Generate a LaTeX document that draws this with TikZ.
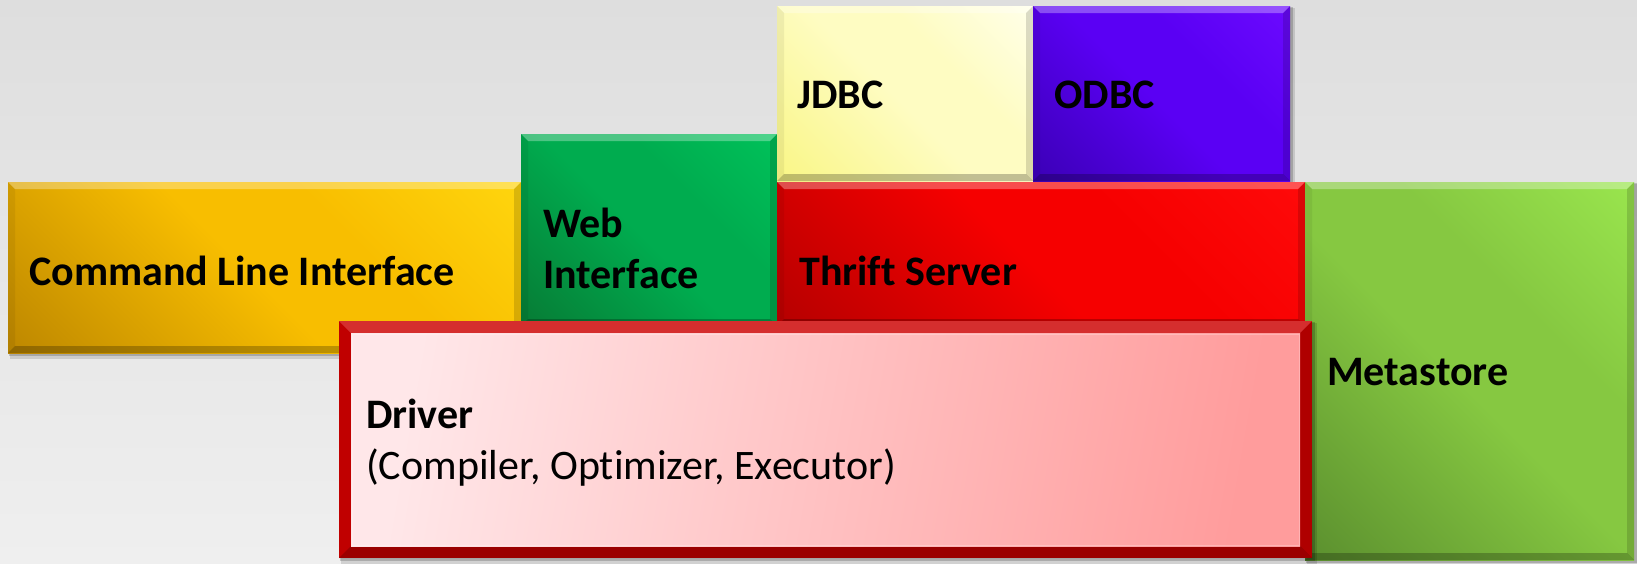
\documentclass[tikz,border=0pt]{standalone}
\usepackage{fontspec}
\setmainfont{Carlito}[Ligatures=NoCommon]
\definecolor{bgtop}{HTML}{DEDEDE}
\definecolor{bgbot}{HTML}{EFEFEF}
\definecolor{cliD}{HTML}{BC8600}
\definecolor{cliM}{HTML}{F8BE00}
\definecolor{cliL}{HTML}{FFD60E}
\definecolor{webD}{HTML}{077A34}
\definecolor{webM}{HTML}{00AC4F}
\definecolor{webL}{HTML}{00C25A}
\definecolor{jdbcD}{HTML}{F9F684}
\definecolor{jdbcM}{HTML}{FEFCC2}
\definecolor{jdbcL}{HTML}{FFFFEA}
\definecolor{odbcD}{HTML}{3A00B4}
\definecolor{odbcM}{HTML}{5A00F4}
\definecolor{odbcL}{HTML}{6C0AFF}
\definecolor{thrD}{HTML}{B40000}
\definecolor{thrM}{HTML}{F60000}
\definecolor{thrL}{HTML}{FF0A0A}
\definecolor{metD}{HTML}{5A8E2E}
\definecolor{metM}{HTML}{86C841}
\definecolor{metL}{HTML}{9AE64E}
\definecolor{drvB}{HTML}{CC0000}
\definecolor{drvL}{HTML}{FFE7E9}
\definecolor{drvR}{HTML}{FF9C9C}
\newcommand\mkshade[4]{\pgfdeclarehorizontalshading{#1}{100bp}{color(0bp)=(#2); color(14bp)=(#2); color(48bp)=(#3); color(62bp)=(#3); color(86bp)=(#4); color(100bp)=(#4)}}
\mkshade{cliS}{cliD}{cliM}{cliL}
\mkshade{webS}{webD}{webM}{webL}
\mkshade{jdbcS}{jdbcD}{jdbcM}{jdbcL}
\mkshade{odbcS}{odbcD}{odbcM}{odbcL}
\mkshade{thrS}{thrD}{thrM}{thrL}
\mkshade{metS}{metD}{metM}{metL}
\tikzset{
  boxnode/.style={inner sep=0pt, outer sep=0pt, anchor=north west, draw=none},
  lbl/.style={anchor=base west, inner sep=0pt, text=black, font=\fontsize{42}{51}\selectfont\bfseries},
  lblreg/.style={anchor=base west, inner sep=0pt, text=black, font=\fontsize{42}{51}\selectfont},
}
\newcommand\bevelbox[3][7]{%
  \fill[white,opacity=#3] (#2.north west) -- (#2.north east) -- ([xshift=-#1pt,yshift=-#1pt]#2.north east) -- ([xshift=#1pt,yshift=-#1pt]#2.north west) -- cycle;
  \fill[black,opacity=.06] (#2.north west) -- ([xshift=#1pt,yshift=-#1pt]#2.north west) -- ([xshift=#1pt,yshift=#1pt]#2.south west) -- (#2.south west) -- cycle;
  \fill[black,opacity=.14] (#2.north east) -- (#2.south east) -- ([xshift=-#1pt,yshift=#1pt]#2.south east) -- ([xshift=-#1pt,yshift=-#1pt]#2.north east) -- cycle;
  \fill[black,opacity=.24] (#2.south west) -- (#2.south east) -- ([xshift=-#1pt,yshift=#1pt]#2.south east) -- ([xshift=#1pt,yshift=#1pt]#2.south west) -- cycle;
}
\newcommand\mkbox[6]{%
  \pgfmathsetmacro\bw{#4-#2}\pgfmathsetmacro\bh{#5-#3}%
  \fill[black,opacity=.12] (#2+2,#3+2) rectangle (#4+5,#5+6);
  \fill[black,opacity=.18] (#2+1,#3+1) rectangle (#4+3,#5+3);
  \node[boxnode, minimum width=\bw pt, minimum height=\bh pt, shade, shading=#6, shading angle=45] (#1) at (#2,#3) {};
  \bevelbox{#1}{.3}
}
\begin{document}
\begin{tikzpicture}[x=1pt,y=-1pt]
\useasboundingbox (0,0) rectangle (1637,563);
\shade[top color=bgtop, bottom color=bgbot] (0,0) rectangle (1637,563);
% boxes
\mkbox{cli}{8}{182}{521}{353}{cliS}
\mkbox{web}{521}{134}{777}{326}{webS}
\mkbox{jdbc}{777}{6}{1033}{181}{jdbcS}
\mkbox{odbc}{1033}{6}{1290}{181}{odbcS}
\mkbox{thrift}{777}{182}{1305}{326}{thrS}
\mkbox{meta}{1305}{182}{1634}{560}{metS}
% driver
\fill[black,opacity=.12] (341,323) rectangle (1317,564);
\fill[black,opacity=.18] (340,322) rectangle (1315,561);
\node[boxnode, minimum width=973pt, minimum height=237pt, fill=drvB] (driver) at (339,321) {};
\bevelbox[12]{driver}{.18}
\node[boxnode, minimum width=949pt, minimum height=213pt, left color=drvL, right color=drvR, shading angle=80] (driverin) at (351,333) {};
\draw[white,opacity=.25,line width=1pt] ([shift={(1pt,-1pt)}]driverin.north west) rectangle ([shift={(-1pt,1pt)}]driverin.south east);
% labels
\node[lbl] (cliT) at (29,285) {Command Line Interface};
\node[lbl] (webT) at (543,237) {\begin{tabular}[t]{@{}l@{}}Web\\Interface\end{tabular}};
\node[lbl] (jdbcT) at (797,108) {JDBC};
\node[lbl] (odbcT) at (1054,108) {ODBC};
\node[lbl] (thriftT) at (799,285) {Thrift Server};
\node[lbl] (metaT) at (1327,385) {Metastore};
\node[lbl] (driverT) at (366,428) {Driver};
\node[lblreg] (driverS) at (366,479) {(Compiler, Optimizer, Executor)};
\end{tikzpicture}
\end{document}
